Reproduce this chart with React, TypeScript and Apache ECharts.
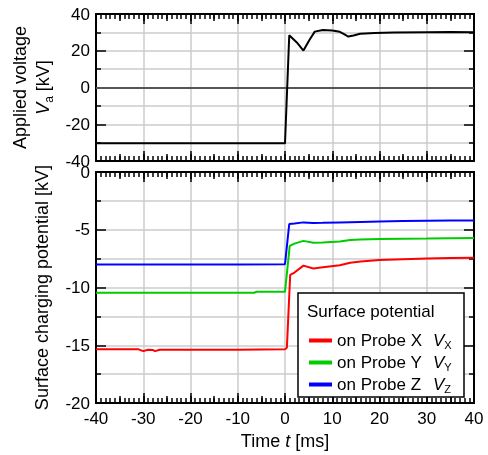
import React, { useEffect, useRef } from "react";
import * as echarts from "echarts";

// Applied voltage (top panel)
const tVa = [-40, -30, -20, -10, 0, 0.9, 2.5, 3.9, 5.2, 6.3, 8, 10, 11.6, 12.5, 13.4, 14.5, 15.9, 19, 23, 30, 35, 40];
const va = [-30.3, -30.3, -30.4, -30.4, -30.4, 28.4, 24.5, 20.1, 26, 30.4, 31.3, 31, 30.3, 29, 27.7, 28.3, 29.2, 29.6, 29.9, 30.1, 30.2, 30.1];

// Surface potential on probes (bottom panel)
const tX = [-40, -31, -30, -29, -28, -27.5, -26.5, -20, -10, 0, 0.4, 1.1, 2, 3.9, 6, 8, 11.6, 13.8, 16, 20, 25, 30, 35, 40];
const vX = [-15.35, -15.35, -15.5, -15.38, -15.4, -15.5, -15.38, -15.38, -15.38, -15.35, -15.2, -8.9, -8.7, -8.1, -8.35, -8.25, -8.07, -7.85, -7.75, -7.62, -7.55, -7.48, -7.45, -7.43];

const tY = [-40, -20, -10, -6.5, -6, 0, 1, 2, 3.9, 6, 8, 11.6, 13.8, 16, 20, 25, 30, 35, 40];
const vY = [-10.45, -10.45, -10.45, -10.45, -10.36, -10.36, -6.39, -6.2, -5.96, -6.13, -6.1, -6.02, -5.88, -5.84, -5.8, -5.78, -5.76, -5.73, -5.71];

const tZ = [-40, -20, -10, 0, 0.9, 2, 3.9, 6, 8, 11.6, 16, 20, 25, 30, 35, 40];
const vZ = [-8.0, -8.0, -8.0, -7.98, -4.5, -4.45, -4.36, -4.42, -4.4, -4.36, -4.32, -4.28, -4.25, -4.22, -4.2, -4.19];

const xRange = [-40, 40];
const probeNames = ["on Probe X", "on Probe Y", "on Probe Z"];
const probeColors = ["#ff0000", "#00cc00", "#0000ff"];

const FONT = "Liberation Sans, Arial, sans-serif";
const TICK = { color: "#000", width: 1.5 };
const pairs = (t: number[], v: number[]) => t.map((x, i) => [x, v[i]]);

function xa(gridIndex: number, position: string, interval: number, len: number, extra: any) {
  return {
    type: "value", gridIndex, position, min: xRange[0], max: xRange[1], interval,
    axisLine: { show: true, onZero: false, lineStyle: { color: "#000", width: 2 } },
    axisTick: { show: true, inside: true, length: len, lineStyle: TICK },
    axisLabel: { show: false }, splitLine: { show: false }, ...extra,
  };
}

function xAxes(g: number, labels: boolean) {
  const minor = { show: true, splitNumber: 10, length: 5, lineStyle: TICK };
  return [
    xa(g, "bottom", 10, 10, {
      minorTick: minor,
      splitLine: { show: true, lineStyle: { color: "#cccccc", width: 1.5 } },
      axisLabel: labels ? { show: true, fontSize: 17, color: "#000", fontFamily: FONT, margin: 7 } : { show: false },
      name: labels ? "Time {i|t} [ms]" : "",
      nameLocation: "middle",
      nameGap: 26,
      nameTextStyle: { fontSize: 18, color: "#000", fontFamily: FONT, rich: { i: { fontStyle: "italic", fontSize: 18, fontFamily: FONT, color: "#000" } } },
    }),
    xa(g, "top", 10, 10, { minorTick: minor }),
    xa(g, "bottom", 5, 7, { axisLine: { show: false, onZero: false } }),
    xa(g, "top", 5, 7, { axisLine: { show: false, onZero: false } }),
  ];
}

function yAxes(g: number, min: number, max: number, interval: number, name: string, gap: number) {
  return [
    {
      type: "value", gridIndex: g, min, max, interval, position: "left",
      axisLine: { show: true, onZero: false, lineStyle: { color: "#000", width: 2 } },
      axisTick: { show: true, inside: true, length: 10, lineStyle: TICK },
      minorTick: { show: true, splitNumber: 2, length: 5, lineStyle: TICK },
      splitLine: { show: true, lineStyle: { color: "#cccccc", width: 1.5 } },
      minorSplitLine: { show: true, lineStyle: { color: "#cccccc", width: 1.5 } },
      axisLabel: { show: true, fontSize: 17, color: "#000", fontFamily: FONT, margin: 6, showMinLabel: true, showMaxLabel: true },
      name, nameLocation: "middle", nameGap: gap,
      nameTextStyle: {
        fontSize: 18, color: "#000", fontFamily: FONT, lineHeight: 23,
        rich: {
          n: { fontSize: 18, fontFamily: FONT, color: "#000", lineHeight: 23 },
          i: { fontStyle: "italic", fontSize: 18, fontFamily: FONT, color: "#000", lineHeight: 23 },
          s: { fontSize: 12, fontFamily: FONT, color: "#000", lineHeight: 12, verticalAlign: "bottom" },
        },
      },
    },
    {
      type: "value", gridIndex: g, min, max, interval, position: "right",
      axisLine: { show: true, onZero: false, lineStyle: { color: "#000", width: 2 } },
      axisTick: { show: true, inside: true, length: 10, lineStyle: TICK },
      minorTick: { show: true, splitNumber: 2, length: 5, lineStyle: TICK },
      splitLine: { show: false }, axisLabel: { show: false },
    },
  ];
}

export default function App() {
  const ref = useRef<HTMLDivElement>(null);
  useEffect(() => {
    if (!ref.current) return;
    const chart = echarts.init(ref.current, null, { renderer: "svg" });
    const option: any = {
      animation: false,
      grid: [
        { left: 96, top: 14, width: 378, height: 147 },
        { left: 96, top: 172, width: 378, height: 237 },
      ],
      xAxis: [...xAxes(0, false), ...xAxes(1, true)],
      yAxis: [
        ...yAxes(0, -40, 40, 20, "{n|Applied voltage}\n{i|V}{s|a}{n| [kV]}", 38),
        ...yAxes(1, -20, 0, 5, "Surface charging potential [kV]", 43),
      ],
      legend: {
        orient: "vertical", left: 304, top: 326, z: 20, icon: "rect",
        itemWidth: 23, itemHeight: 4, itemGap: 3, itemStyle: { borderWidth: 0 },
        data: probeNames,
        formatter: (name: string) => `{n|${name}}{i|V}{s|${name.slice(-1)}}`,
        textStyle: {
          fontSize: 17, color: "#000", fontFamily: FONT, lineHeight: 19,
          rich: {
            n: { fontSize: 17, fontFamily: FONT, color: "#000", width: 96, lineHeight: 19 },
            i: { fontSize: 17, fontStyle: "italic", fontFamily: FONT, color: "#000", lineHeight: 19 },
            s: { fontSize: 11, fontFamily: FONT, color: "#000", lineHeight: 11, verticalAlign: "bottom" },
          },
        },
      },
      graphic: [
        { type: "rect", z: 15, shape: { x: 298, y: 293, width: 166, height: 104 }, style: { fill: "#fff", stroke: "#000", lineWidth: 1.5 } },
        { type: "text", z: 20, x: 307, y: 311, style: { text: "Surface potential", fontSize: 17, fontFamily: FONT, fill: "#000", textVerticalAlign: "middle" } },
      ],
      series: [
        {
          name: "Va", type: "line", xAxisIndex: 0, yAxisIndex: 0, data: pairs(tVa, va),
          showSymbol: false, symbol: "none", lineStyle: { color: "#000", width: 2 }, itemStyle: { color: "#000" }, z: 5,
          markLine: { silent: true, symbol: "none", label: { show: false }, lineStyle: { color: "#555", width: 2, type: "solid" }, data: [{ yAxis: 0 }] },
        },
        ...[pairs(tX, vX), pairs(tY, vY), pairs(tZ, vZ)].map((d, i) => ({
          name: probeNames[i], type: "line", xAxisIndex: 4, yAxisIndex: 2, data: d,
          showSymbol: false, symbol: "none",
          lineStyle: { color: probeColors[i], width: 2 }, itemStyle: { color: probeColors[i] }, z: 5,
        })),
      ],
    };
    chart.setOption(option);
    return () => chart.dispose();
  }, []);
  return <div ref={ref} style={{ position: "fixed", left: 0, top: 0, width: 488, height: 455 }} />;
}
